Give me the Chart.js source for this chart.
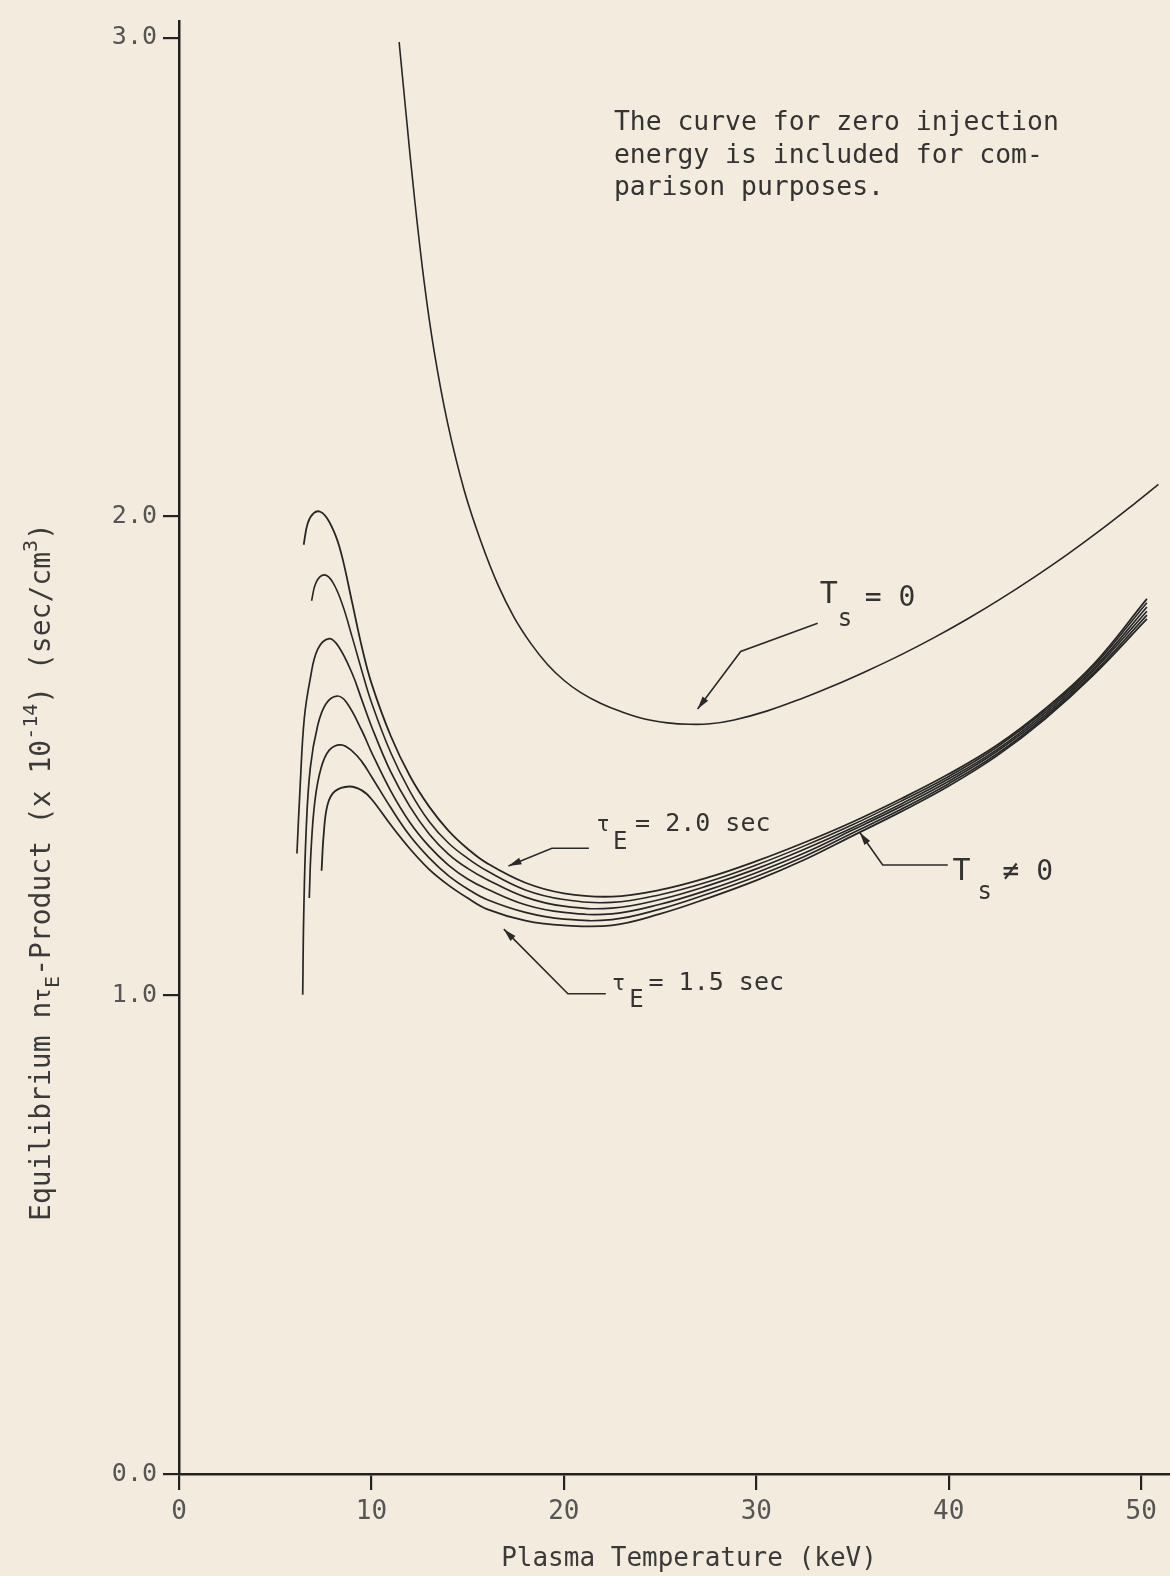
<!DOCTYPE html>
<html>
<head>
<meta charset="utf-8">
<script src="https://cdn.jsdelivr.net/npm/chart.js@4.4.1/dist/chart.umd.min.js"></script>
<style>
  html, body { margin: 0; padding: 0; background: #f3ecde; }
  #caixa { width: 1170px; height: 1576px; position: relative; }
</style>
</head>
<body>
<div id="caixa"><canvas id="grafico" width="1170" height="1576"></canvas></div>
<script>
// ---- ticks ----
const tempTicks = [0, 10, 20, 30, 40, 50];
const nTauTicks = [0, 1, 2, 3];

// ---- curva Ts = 0 (energia de injecao zero) ----
const tsZeroT = [11.44, 11.79, 12.22, 12.74, 13.26, 13.96, 14.82, 15.69, 16.6, 17.42, 18.3, 19.15, 20.0, 20.88, 21.9, 23.0,
                 24.2, 25.4, 26.5, 27.6, 28.85, 30.58, 32.31, 34.04, 35.78, 37.51, 39.24, 40.97, 42.70, 44.43, 46.17, 47.90, 49.63, 50.9];
const tsZeroN = [2.991, 2.845, 2.672, 2.49, 2.345, 2.195, 2.055, 1.948, 1.855, 1.789, 1.734, 1.691, 1.658, 1.632, 1.610, 1.592,
                 1.577, 1.569, 1.566, 1.567, 1.575, 1.594, 1.619, 1.647, 1.678, 1.711, 1.747, 1.786, 1.828, 1.873, 1.921, 1.972, 2.026, 2.067];

// ---- curvas Ts != 0, tauE = 2.0 ... 1.5 sec ----
const tau20T = [6.48, 6.69, 7.00, 7.34, 7.72, 8.16, 8.5, 9.0, 9.5, 10, 11, 12, 13, 14, 15, 16, 18, 20, 22.5, 25, 27.5, 30, 32.5, 35, 37.5, 40, 42.5, 45, 47.5, 50.3];
const tau20N = [1.941, 1.986, 2.007, 2.010, 1.995, 1.958, 1.912, 1.82, 1.728, 1.652, 1.542, 1.458, 1.394, 1.344, 1.306, 1.276, 1.235, 1.213, 1.206, 1.220, 1.246, 1.280, 1.319, 1.362, 1.410, 1.462, 1.522, 1.598, 1.690, 1.828];

const tau19T = [6.89, 7.12, 7.55, 8.0, 8.5, 9.0, 9.5, 10, 11, 12, 13, 14, 15, 16, 18, 20, 22.5, 25, 27.5, 30, 32.5, 35, 37.5, 40, 42.5, 45, 47.5, 50.3];
const tau19N = [1.824, 1.862, 1.878, 1.862, 1.815, 1.748, 1.678, 1.612, 1.507, 1.426, 1.363, 1.318, 1.286, 1.26, 1.220, 1.200, 1.194, 1.210, 1.237, 1.272, 1.312, 1.356, 1.405, 1.457, 1.518, 1.594, 1.686, 1.820];

const tau18T = [6.13, 6.30, 6.51, 6.82, 7.21, 7.81, 8.3, 9.0, 9.5, 10, 11, 12, 13, 14, 15, 16, 18, 20, 22.5, 25, 27.5, 30, 32.5, 35, 37.5, 40, 42.5, 45, 47.5, 50.3];
const tau18N = [1.296, 1.440, 1.578, 1.661, 1.723, 1.745, 1.728, 1.672, 1.617, 1.562, 1.467, 1.394, 1.337, 1.295, 1.265, 1.242, 1.205, 1.186, 1.182, 1.200, 1.229, 1.264, 1.305, 1.350, 1.399, 1.452, 1.513, 1.590, 1.681, 1.811];

const tau17T = [6.43, 6.48, 6.60, 6.82, 7.21, 7.64, 8.21, 8.7, 9.5, 10, 11, 12, 13, 14, 15, 16, 18, 20, 22.5, 25, 27.5, 30, 32.5, 35, 37.5, 40, 42.5, 45, 47.5, 50.3];
const tau17N = [1.001, 1.163, 1.336, 1.474, 1.564, 1.609, 1.625, 1.612, 1.553, 1.508, 1.427, 1.361, 1.311, 1.272, 1.243, 1.222, 1.189, 1.173, 1.170, 1.190, 1.220, 1.256, 1.297, 1.345, 1.394, 1.447, 1.509, 1.585, 1.677, 1.802];

const tau16T = [6.77, 6.86, 7.06, 7.38, 7.81, 8.42, 9.0, 9.5, 10, 11, 12, 13, 14, 15, 16, 18, 20, 22.5, 25, 27.5, 30, 32.5, 35, 37.5, 40, 42.5, 45, 47.5, 50.3];
const tau16N = [1.203, 1.301, 1.405, 1.474, 1.512, 1.523, 1.51, 1.488, 1.457, 1.392, 1.333, 1.287, 1.25, 1.222, 1.2, 1.173, 1.159, 1.158, 1.180, 1.212, 1.248, 1.290, 1.339, 1.388, 1.442, 1.504, 1.581, 1.672, 1.794];

const tau15T = [7.41, 7.52, 7.72, 8.10, 8.85, 9.5, 10, 11, 12, 13, 14, 15, 16, 18, 20, 22.5, 25, 27.5, 30, 32.5, 35, 37.5, 40, 42.5, 45, 47.5, 50.3];
const tau15N = [1.260, 1.336, 1.398, 1.426, 1.436, 1.428, 1.41, 1.356, 1.306, 1.263, 1.23, 1.203, 1.18, 1.156, 1.146, 1.146, 1.170, 1.203, 1.240, 1.283, 1.333, 1.383, 1.437, 1.500, 1.577, 1.668, 1.786];

// ---- setas das legendas (coordenadas de dados, ultimo ponto = ponta) ----
const setas = [
  [[33.19, 1.777], [29.19, 1.718], [26.95, 1.598]],
  [[21.30, 1.307], [19.38, 1.307], [17.12, 1.270]],
  [[22.18, 1.003], [20.21, 1.003], [16.88, 1.138]],
  [[39.95, 1.272], [36.57, 1.272], [35.38, 1.340]]
];

// pedacos de texto: [texto, x, y, tamanho]
const rotulos = [
  ['T', 33.30, 1.820, 30], ['s', 34.23, 1.772, 24], ['= 0', 35.64, 1.813, 28],
  ['\u03c4', 21.70, 1.343, 22], ['E', 22.55, 1.305, 24], ['= 2.0 sec', 23.70, 1.343, 25],
  ['\u03c4', 22.50, 1.012, 22], ['E', 23.40, 0.975, 24], ['= 1.5 sec', 24.40, 1.012, 25],
  ['T', 40.20, 1.240, 30], ['s', 41.50, 1.201, 24], ['\u2260 0', 42.80, 1.240, 28],
  ['The curve for zero injection', 22.60, 2.807, 26.4],
  ['energy is included for com-', 22.60, 2.739, 26.4],
  ['parison purposes.', 22.60, 2.671, 26.4]
];

const FONTE = "'DejaVu Sans Mono', monospace";
const COR_LINHA = '#262626';

function serie(xs, ys, largura) {
  return {
    data: xs.map((x, i) => ({ x: x, y: ys[i] })),
    borderColor: COR_LINHA,
    borderWidth: largura,
    pointRadius: 0,
    fill: false,
    tension: 0.4
  };
}

// fundo creme
const fundo = {
  id: 'fundo',
  beforeDraw(chart) {
    const c = chart.ctx;
    c.save();
    c.fillStyle = '#f3ecde';
    c.fillRect(0, 0, chart.width, chart.height);
    c.restore();
  }
};

// setas, rotulos e titulos dos eixos
const anotacoes = {
  id: 'anotacoes',
  afterDatasetsDraw(chart) {
    const c = chart.ctx;
    const sx = chart.scales.x, sy = chart.scales.y;
    c.save();
    c.strokeStyle = '#2a2a2a';
    c.fillStyle = '#2a2a2a';
    c.lineWidth = 1.6;
    setas.forEach(pts => {
      const p = pts.map(q => [sx.getPixelForValue(q[0]), sy.getPixelForValue(q[1])]);
      c.beginPath();
      c.moveTo(p[0][0], p[0][1]);
      for (let i = 1; i < p.length; i++) c.lineTo(p[i][0], p[i][1]);
      c.stroke();
      // ponta da seta
      const a = p[p.length - 2], b = p[p.length - 1];
      const ang = Math.atan2(b[1] - a[1], b[0] - a[0]);
      c.beginPath();
      c.moveTo(b[0], b[1]);
      c.lineTo(b[0] - 13 * Math.cos(ang) + 3.5 * Math.sin(ang), b[1] - 13 * Math.sin(ang) - 3.5 * Math.cos(ang));
      c.lineTo(b[0] - 13 * Math.cos(ang) - 3.5 * Math.sin(ang), b[1] - 13 * Math.sin(ang) + 3.5 * Math.cos(ang));
      c.closePath();
      c.fill();
    });

    c.fillStyle = '#333';
    c.textBaseline = 'alphabetic';
    c.textAlign = 'left';
    rotulos.forEach(r => {
      c.font = r[3] + 'px ' + FONTE;
      c.fillText(r[0], sx.getPixelForValue(r[1]), sy.getPixelForValue(r[2]));
    });

    // titulo do eixo x
    c.fillStyle = '#3a3a3a';
    c.font = '26px ' + FONTE;
    c.textAlign = 'center';
    c.textBaseline = 'middle';
    c.fillText('Plasma Temperature (keV)', 689, 1559);

    // titulo do eixo y (com sub e sobrescritos)
    const partes = [
      ['Equilibrium n', 28, 0], ['\u03c4', 23, 0], ['E', 20, 9], ['-Product (x 10', 28, 0],
      ['-14', 20, -13], [') (sec/cm', 28, 0], ['3', 20, -13], [')', 28, 0]
    ];
    c.textAlign = 'left';
    c.textBaseline = 'alphabetic';
    let total = 0;
    partes.forEach(p => { c.font = p[1] + 'px ' + FONTE; total += c.measureText(p[0]).width; });
    c.translate(50, 872);
    c.rotate(-Math.PI / 2);
    let px = -total / 2;
    partes.forEach(p => {
      c.font = p[1] + 'px ' + FONTE;
      c.fillText(p[0], px, p[2]);
      px += c.measureText(p[0]).width;
    });
    c.restore();
  }
};

new Chart(document.getElementById('grafico'), {
  type: 'line',
  data: {
    datasets: [
      serie(tsZeroT, tsZeroN, 1.6),
      serie(tau20T, tau20N, 1.8),
      serie(tau19T, tau19N, 1.6),
      serie(tau18T, tau18N, 1.7),
      serie(tau17T, tau17N, 1.7),
      serie(tau16T, tau16N, 1.7),
      serie(tau15T, tau15N, 1.8)
    ]
  },
  options: {
    responsive: false,
    animation: false,
    devicePixelRatio: 1,
    layout: { padding: { top: 12, right: 0, bottom: 0, left: 0 } },
    plugins: { legend: { display: false }, tooltip: { enabled: false } },
    scales: {
      x: {
        type: 'linear',
        min: 0,
        max: 51.5,
        afterBuildTicks: s => { s.ticks = tempTicks.map(v => ({ value: v })); },
        afterFit: s => { s.height = 102; },
        grid: { drawOnChartArea: false, drawTicks: true, tickLength: 16, color: '#222', lineWidth: 2.2 },
        border: { display: true, color: '#222', width: 2.5 },
        ticks: { padding: 7, color: '#555', autoSkip: false, maxRotation: 0,
                 font: { family: FONTE, size: 26 } }
      },
      y: {
        min: 0,
        max: 3.035,
        afterBuildTicks: s => { s.ticks = nTauTicks.map(v => ({ value: v })); },
        afterFit: s => { s.width = 179; },
        grid: { drawOnChartArea: false, drawTicks: true, tickLength: 16, color: '#222', lineWidth: 2.2 },
        border: { display: true, color: '#222', width: 2.5 },
        ticks: { padding: 6, color: '#555', font: { family: FONTE, size: 25 },
                 callback: v => Number(v).toFixed(1) }
      }
    }
  },
  plugins: [fundo, anotacoes]
});
</script>
</body>
</html>
